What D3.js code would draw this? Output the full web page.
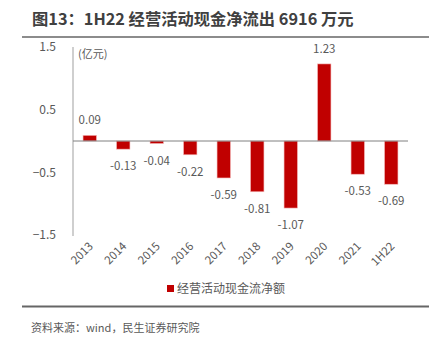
<!DOCTYPE html>
<html><head><meta charset="utf-8">
<script src="https://cdn.jsdelivr.net/npm/d3@7"></script>
<style>
body{margin:0;background:#fff;}
text{font-family:"Noto Sans CJK SC","Noto Sans",sans-serif;}
</style></head>
<body>
<svg id="c" width="441" height="349"></svg>
<script>
const categories = ["2013","2014","2015","2016","2017","2018","2019","2020","2021","1H22"];
const values = [0.09,-0.13,-0.04,-0.22,-0.59,-0.81,-1.07,1.23,-0.53,-0.69];
const yTicks = [1.5,0.5,-0.5,-1.5];
const titleText = "图13：1H22 经营活动现金净流出 6916 万元";
const unitText = "(亿元)";
const legendText = "经营活动现金流净额";
const sourceText = "资料来源：wind，民生证券研究院";

const svg = d3.select("#c");
const x = d3.scaleBand().domain(categories).range([73,408]).paddingInner(0.6).paddingOuter(0.3);
const y = d3.scaleLinear().domain([-1.5,1.5]).range([235,47]);

svg.append("text").attr("x",32).attr("y",25).attr("font-size",16.3).attr("font-weight","bold")
  .attr("fill","#404040").text(titleText);
svg.append("line").attr("x1",22).attr("x2",429).attr("y1",37).attr("y2",37).attr("stroke","#666").attr("stroke-width",1.5);

// y axis
const ya = svg.append("g").attr("transform","translate(73,0)").call(d3.axisLeft(y).tickValues(yTicks).tickSize(0).tickPadding(17).tickFormat(d3.format("")));
ya.select(".domain").attr("stroke","#bfbfbf").attr("stroke-width",1.5).attr("d","M0,47V236");
ya.selectAll("text").attr("font-size",12).attr("fill","#595959").attr("font-family","'Noto Sans CJK SC',sans-serif");

svg.append("text").attr("x",78).attr("y",58).attr("font-size",11).attr("fill","#595959").text(unitText);

// bars
svg.selectAll("rect.bar").data(values).enter().append("rect").attr("class","bar")
  .attr("x",(d,i)=>x(categories[i])).attr("width",x.bandwidth())
  .attr("y",d=>y(Math.max(0,d))).attr("height",d=>Math.abs(y(d)-y(0)))
  .attr("fill","#C00000").attr("stroke","#f4b6b6").attr("stroke-width",0.6);

// zero line
svg.append("line").attr("x1",73).attr("x2",408).attr("y1",y(0)).attr("y2",y(0)).attr("stroke","#808080").attr("stroke-width",1);

// value labels
svg.selectAll("text.val").data(values).enter().append("text").attr("class","val")
  .attr("x",(d,i)=>x(categories[i])+x.bandwidth()/2)
  .attr("y",d=>d>=0? y(d)-11 : y(d)+21)
  .attr("text-anchor","middle").attr("font-size",11.5).attr("fill","#595959")
  .text(d=>d.toFixed(2));

// x labels
svg.selectAll("text.xl").data(categories).enter().append("text").attr("class","xl")
  .attr("transform",d=>`translate(${x(d)+x.bandwidth()/2+4},${247}) rotate(-45)`)
  .attr("text-anchor","end").attr("font-size",11.5).attr("fill","#595959").text(d=>d);

// legend
svg.append("rect").attr("x",167).attr("y",285).attr("width",7).attr("height",7).attr("fill","#C00000");
svg.append("text").attr("x",177).attr("y",293).attr("font-size",12).attr("fill","#595959").text(legendText);

svg.append("line").attr("x1",22).attr("x2",429).attr("y1",306.5).attr("y2",306.5).attr("stroke","#666").attr("stroke-width",2);
svg.append("text").attr("x",31).attr("y",332).attr("font-size",11).attr("fill","#595959").text(sourceText);
</script>
</body></html>
